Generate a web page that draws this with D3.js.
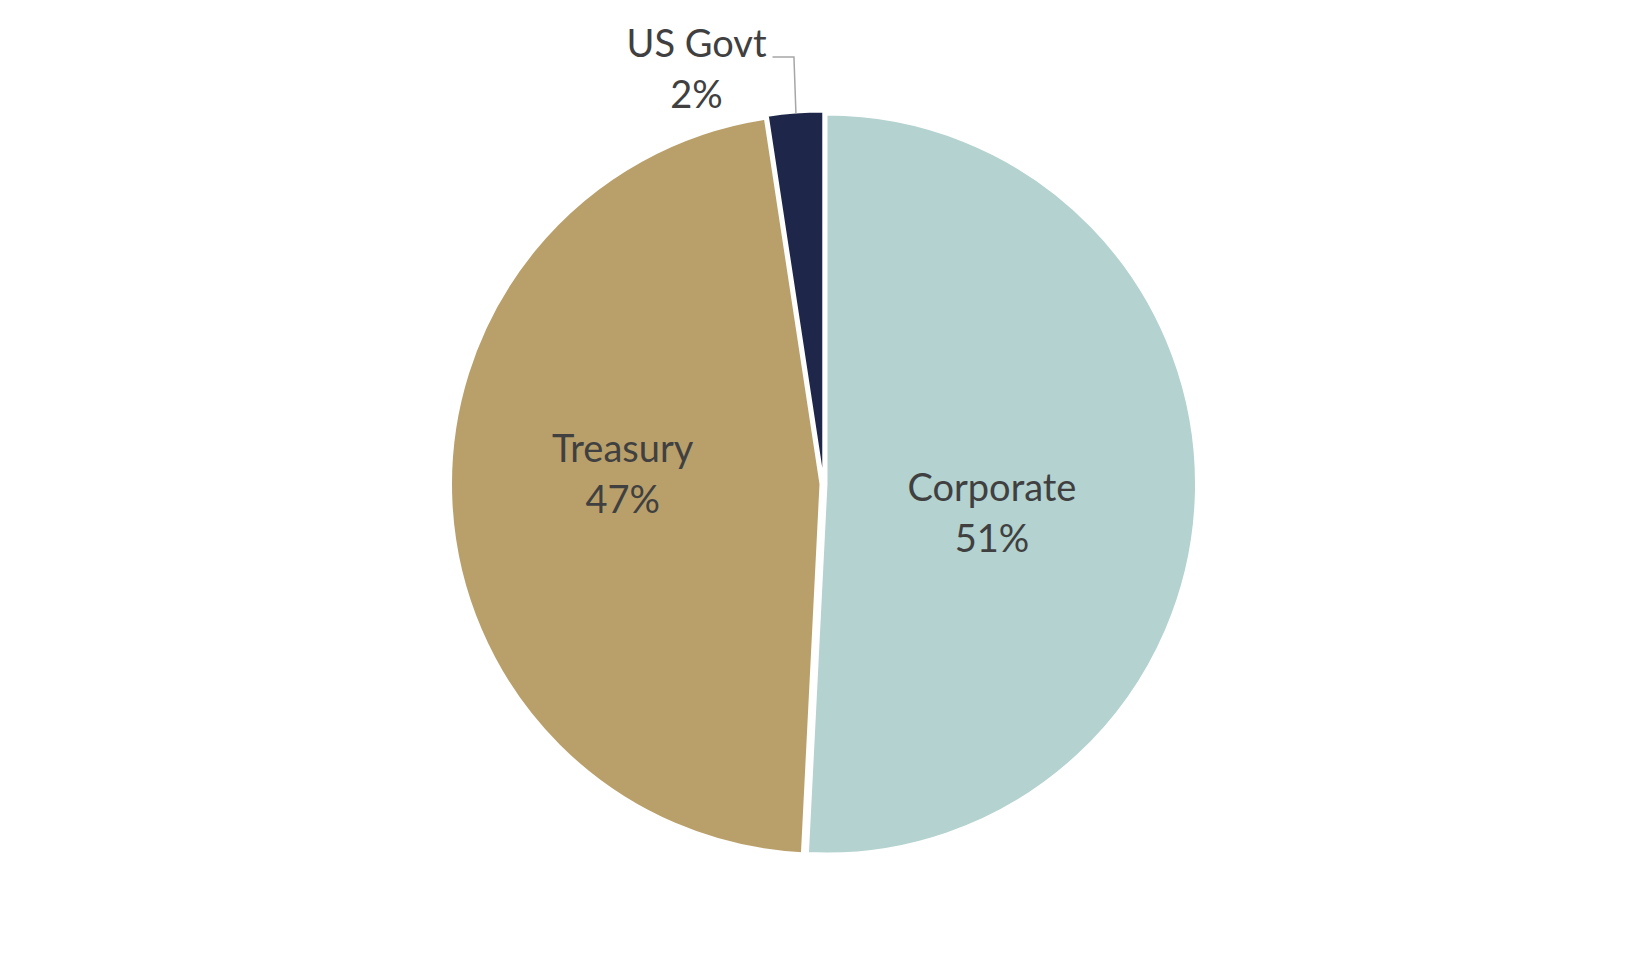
<!DOCTYPE html>
<html>
<head>
<meta charset="utf-8">
<script src="https://cdn.jsdelivr.net/npm/d3@7"></script>
<style>
  html, body { margin: 0; padding: 0; background: #fff; }
  text { font-family: Lato, "Open Sans", sans-serif; fill: #404040; }
</style>
</head>
<body>
<svg id="chart" width="1647" height="967"></svg>
<script>
// data
const categories = ["Corporate", "Treasury", "US Govt"];
const values = [50.8, 46.8, 2.4];
const labels = ["51%", "47%", "2%"];
const colors = ["#b3d2d0", "#b9a06b", "#1e2749"];

const svg = d3.select("#chart"),
    cx = 823.5,
    cy = 484,
    radius = 369.5,
    explode = 3;

const pie = d3.pie().sort(null).value(d => d.value);
const arc = d3.arc().innerRadius(0).outerRadius(radius);

const data = categories.map((c, i) => ({ name: c, value: values[i], label: labels[i], color: colors[i] }));
const arcs = pie(data);

const g = svg.append("g").attr("transform", "translate(" + cx + "," + cy + ")");

g.selectAll(".slice")
    .data(arcs)
    .enter()
    .append("path")
    .attr("class", "slice")
    .attr("d", arc)
    .attr("fill", d => d.data.color)
    .attr("stroke", "#fff")
    .attr("stroke-width", 2)
    .attr("transform", d => {
      let a = (d.startAngle + d.endAngle) / 2;
      return "translate(" + (explode * Math.sin(a)) + "," + (-explode * Math.cos(a)) + ")";
    });

// label placement: inside for big slices, outside with leader for the small one
// [angle shift (deg), radius] relative to slice mid-angle
const labelPlace = [[8.5, 171], [5.5, 201], [null, null]];

arcs.forEach((d, i) => {
  let lbl = g.append("text").attr("text-anchor", "middle").style("font-size", "38px");
  let x, y;
  if (labelPlace[i][0] !== null) {
    let a = (d.startAngle + d.endAngle) / 2 + labelPlace[i][0] * Math.PI / 180;
    x = labelPlace[i][1] * Math.sin(a);
    y = -labelPlace[i][1] * Math.cos(a);
  } else {
    // outside label for the thin slice
    let a = (d.startAngle + d.endAngle) / 2;
    let px = (radius + explode) * Math.sin(a) + 0.5, py = -(radius + explode) * Math.cos(a);
    x = -127; y = -414;
    g.append("path")
      .attr("d", "M" + (x + 76) + "," + (y - 13) + "H" + (px - 2) + "L" + px + "," + (py + 1))
      .attr("fill", "none")
      .attr("stroke", "#a6a6a6")
      .attr("stroke-width", 1.5);
  }
  lbl.attr("transform", "translate(" + x + "," + y + ")");
  lbl.append("tspan").attr("x", 0).attr("y", -13).text(d.data.name);
  lbl.append("tspan").attr("x", 0).attr("y", 38).text(d.data.label);
});
</script>
</body>
</html>
